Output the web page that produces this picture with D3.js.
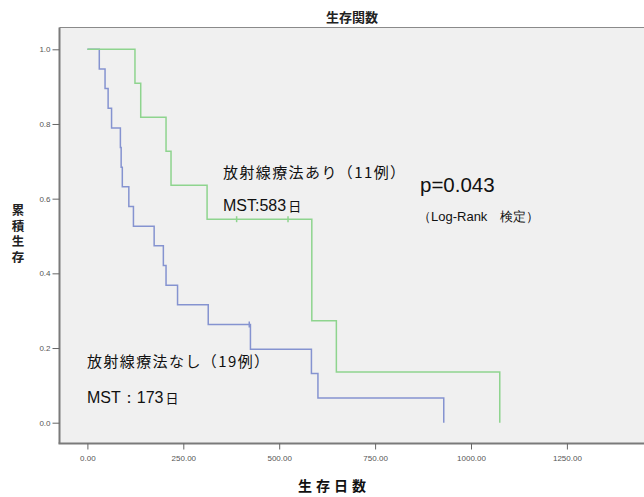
<!DOCTYPE html>
<html><head><meta charset="utf-8">
<script src="https://cdn.jsdelivr.net/npm/d3@7"></script>
<style>body{margin:0;background:#fff;} svg{display:block;}</style>
</head><body>
<svg id="c" width="644" height="497"></svg>
<script>
// Group without radiotherapy (19 cases)
const noRadTimes = [0, 31, 46, 54, 63, 86, 88, 91, 108, 120, 174, 198, 205, 235, 315, 425, 584, 601, 929];
const noRadSurv  = [1.0, 0.947, 0.895, 0.842, 0.789, 0.737, 0.684, 0.632, 0.579, 0.526, 0.474, 0.421, 0.368, 0.316, 0.263, 0.197, 0.132, 0.066, 0.0];
const noRadCensor = [422];
// Group with radiotherapy (11 cases)
const radTimes = [0, 124, 139, 205, 218, 312, 585, 649, 1075];
const radSurv  = [1.0, 0.909, 0.818, 0.727, 0.636, 0.545, 0.273, 0.136, 0.0];
const radCensor = [389, 523];

const xTicks = [0, 250, 500, 750, 1000, 1250];
const yTicks = [0.0, 0.2, 0.4, 0.6, 0.8, 1.0];

const svg = d3.select("#c");
const x = d3.scaleLinear().domain([0, 1000]).range([87.4, 471]);
const y = d3.scaleLinear().domain([0, 1]).range([422.7, 49.3]);

const plotL = 59.5, plotT = 27.5, plotB = 443.5, plotR = 660;

svg.append("rect").attr("x", plotL).attr("y", plotT).attr("width", plotR - plotL).attr("height", plotB - plotT)
  .attr("fill", "#f0f0f0");
svg.append("line").attr("x1", plotL).attr("x2", plotR).attr("y1", plotT).attr("y2", plotT)
  .attr("stroke", "#8a8a8a").attr("stroke-width", 1);
svg.append("line").attr("x1", plotL).attr("x2", plotL).attr("y1", plotT).attr("y2", plotB)
  .attr("stroke", "#7a7a7a").attr("stroke-width", 2);
svg.append("line").attr("x1", plotL - 1).attr("x2", plotR).attr("y1", plotB).attr("y2", plotB)
  .attr("stroke", "#7a7a7a").attr("stroke-width", 2);

// y axis
const yAxis = d3.axisLeft(y).tickValues(yTicks).tickFormat(d3.format(".1f")).tickSize(7).tickPadding(2);
const gy = svg.append("g").attr("transform", `translate(${plotL},0)`).call(yAxis);
gy.select(".domain").remove();
gy.selectAll("line").attr("stroke", "#666");
gy.selectAll("text").attr("font-family", "Arial, 'Liberation Sans', sans-serif").attr("font-size", 8).attr("fill", "#555");

// x axis
const xAxis = d3.axisBottom(x).tickValues(xTicks).tickFormat(d3.format(".2f")).tickSize(6).tickPadding(6);
const gx = svg.append("g").attr("transform", `translate(0,${plotB})`).call(xAxis);
gx.select(".domain").remove();
gx.selectAll("line").attr("stroke", "#666");
gx.selectAll("text").attr("font-family", "Arial, 'Liberation Sans', sans-serif").attr("font-size", 8).attr("fill", "#555");

function stepPath(times, surv) {
  const pts = [];
  for (let i = 0; i < times.length; i++) {
    if (i > 0) pts.push([times[i], surv[i - 1]]);
    pts.push([times[i], surv[i]]);
  }
  return d3.line().x(d => x(d[0])).y(d => y(d[1]))(pts);
}
function survAt(times, surv, t) {
  let s = surv[0];
  for (let i = 0; i < times.length; i++) if (times[i] <= t) s = surv[i];
  return s;
}

const blue = "#8593d0", green = "#8ed48e";
svg.append("path").attr("d", stepPath(noRadTimes, noRadSurv)).attr("fill", "none")
  .attr("stroke", blue).attr("stroke-width", 1.5);
svg.append("path").attr("d", stepPath(radTimes, radSurv)).attr("fill", "none")
  .attr("stroke", green).attr("stroke-width", 1.5);

noRadCensor.forEach(t => {
  const s = survAt(noRadTimes, noRadSurv, t);
  svg.append("line").attr("x1", x(t)).attr("x2", x(t)).attr("y1", y(s) - 3).attr("y2", y(s) + 3)
    .attr("stroke", blue).attr("stroke-width", 1.5);
});
radCensor.forEach(t => {
  const s = survAt(radTimes, radSurv, t);
  svg.append("line").attr("x1", x(t)).attr("x2", x(t)).attr("y1", y(s) - 3).attr("y2", y(s) + 3)
    .attr("stroke", green).attr("stroke-width", 1.5);
});

const jp = "'Noto Sans CJK JP', sans-serif";
const lat = "Arial, 'Liberation Sans', sans-serif";

svg.append("text").attr("x", 352).attr("y", 22).attr("text-anchor", "middle")
  .attr("font-family", jp).attr("font-weight", "bold").attr("font-size", 13).attr("fill", "#222").text("生存関数");

svg.append("text").attr("x", 334).attr("y", 491).attr("text-anchor", "middle")
  .attr("font-family", jp).attr("font-weight", "bold").attr("font-size", 14).attr("letter-spacing", 4).attr("fill", "#111").text("生存日数");

svg.append("text").attr("x", 18).attr("y", 204)
  .attr("font-family", jp).attr("font-weight", "bold").attr("font-size", 12.5).attr("fill", "#222")
  .style("writing-mode", "vertical-rl").attr("letter-spacing", 3).text("累積生存");

svg.append("text").attr("x", 223).attr("y", 178).attr("font-family", jp).attr("font-size", 15).attr("letter-spacing", 1.4).attr("fill", "#111")
  .text("放射線療法あり（11例）");
svg.append("text").attr("x", 223).attr("y", 211).attr("font-family", lat).attr("font-size", 16).attr("fill", "#111")
  .text("MST:583").append("tspan").attr("font-family", jp).attr("font-size", 13).attr("dx", 2).text("日");

svg.append("text").attr("x", 420).attr("y", 192).attr("font-family", lat).attr("font-size", 20.5).attr("fill", "#111")
  .text("p=0.043");
svg.append("text").attr("x", 418).attr("y", 221).attr("font-family", lat).attr("font-size", 13).attr("fill", "#111")
  .text("（Log-Rank　検定）");

svg.append("text").attr("x", 87).attr("y", 367).attr("font-family", jp).attr("font-size", 15).attr("letter-spacing", 1.4).attr("fill", "#111")
  .text("放射線療法なし（19例）");
svg.append("text").attr("x", 87).attr("y", 403).attr("font-family", lat).attr("font-size", 16).attr("fill", "#111")
  .text("MST：173").append("tspan").attr("font-family", jp).attr("font-size", 13).attr("dx", 2).text("日");
</script>
</body></html>
